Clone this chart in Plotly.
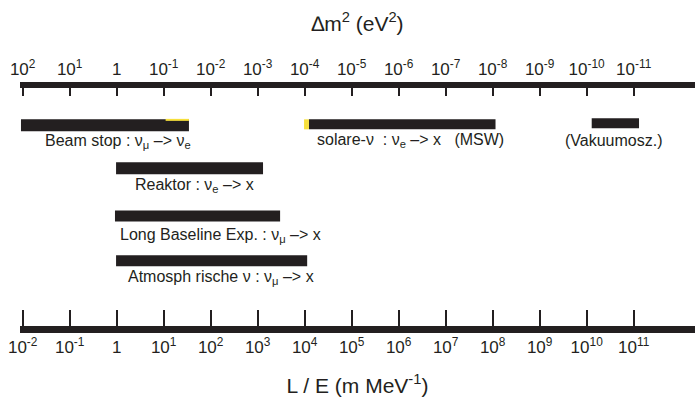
import plotly.graph_objects as go
import math

# ---- data (L/E ranges in m/MeV) ----
experiments = ["Beam stop", "solare-ν (MSW)", "Vakuumosz.", "Reaktor", "Long Baseline", "Atmosphärische ν"]
le_min = [0.0092, 1.23e4, 1.28e10, 0.97, 0.92, 0.97]
le_max = [34.5, 1.15e8, 1.3e11, 1.3e3, 3.0e3, 1.13e4]
# yellow highlight segments
yellow_min = [11.0, 9.7e3]
yellow_max = [34.5, 1.23e4]

labels = [
    "Beam stop : ν<sub>μ</sub> –> ν<sub>e</sub>",
    "solare-ν  : ν<sub>e</sub> –> x   (MSW)",
    "(Vakuumosz.)",
    "Reaktor : ν<sub>e</sub> –> x",
    "Long Baseline Exp. : ν<sub>μ</sub> –> x",
    "Atmosph rische ν : ν<sub>μ</sub> –> x",
]
label_x = [0.027, 1.66e4, 3.9e10, 2.25, 1.07, 1.58]

le_exp = list(range(-2, 12))
dm_exp = list(range(2, -12, -1))

def tick_text(e):
    if e == 0:
        return "1"
    return "10<sup>%d</sup>" % e

# ---- layout helpers (pixel lanes) ----
bar_y = [125, 124, 123, 168, 216, 261]
bar_w = [12, 10, 10, 12, 11, 11]
label_y = [141, 140, 140, 185, 236, 278]
label_anchor = ["left", "left", "center", "left", "left", "left"]
yellow_y = [119.5, 124]
yellow_w = [2, 10]

DARK = "#231f20"
YEL = "#f7e03c"

fig = go.Figure()

for i in range(len(experiments)):
    fig.add_trace(go.Scatter(
        x=[le_min[i], le_max[i]], y=[bar_y[i], bar_y[i]],
        mode="lines", line=dict(color=DARK, width=bar_w[i]),
        hoverinfo="skip", showlegend=False, xaxis="x", yaxis="y"))

for i in range(len(yellow_min)):
    fig.add_trace(go.Scatter(
        x=[yellow_min[i], yellow_max[i]], y=[yellow_y[i], yellow_y[i]],
        mode="lines", line=dict(color=YEL, width=yellow_w[i]),
        hoverinfo="skip", showlegend=False, xaxis="x", yaxis="y"))

# invisible trace to anchor the top axis
fig.add_trace(go.Scatter(
    x=[10 ** e for e in dm_exp], y=[200] * len(dm_exp), mode="markers",
    marker=dict(opacity=0), hoverinfo="skip", showlegend=False,
    xaxis="x2", yaxis="y"))

for i in range(len(labels)):
    fig.add_annotation(
        x=math.log10(label_x[i]), y=label_y[i], xref="x", yref="y",
        text=labels[i], showarrow=False, xanchor=label_anchor[i], yanchor="middle",
        font=dict(family="Liberation Sans", size=16, color=DARK))

xmin = -2.057
xmax = 12.305

fig.update_layout(
    width=695, height=401,
    margin=dict(l=20, r=0, t=88, b=75),
    paper_bgcolor="white", plot_bgcolor="white",
    font=dict(family="Liberation Sans", color=DARK),
    xaxis=dict(
        type="log", range=[xmin, xmax], side="bottom",
        showline=True, linecolor=DARK, linewidth=7,
        ticks="inside", ticklen=16, tickwidth=2, tickcolor=DARK,
        tickvals=[10 ** e for e in le_exp], ticktext=[tick_text(e) for e in le_exp],
        tickfont=dict(size=17, color=DARK), showgrid=False, zeroline=False,
        title=dict(text="L / E (m MeV<sup>-1</sup>)", font=dict(size=21, color=DARK), standoff=24),
    ),
    xaxis2=dict(
        type="log", range=[-xmin, -xmax], side="top", overlaying="x", anchor="y",
        showline=True, linecolor=DARK, linewidth=6,
        ticks="inside", ticklen=8, tickwidth=2, tickcolor=DARK,
        tickvals=[10 ** e for e in dm_exp], ticktext=[tick_text(e) for e in dm_exp],
        tickfont=dict(size=17, color=DARK), showgrid=False, zeroline=False,
        title=dict(text="∆m<sup>2</sup> (eV<sup>2</sup>)", font=dict(size=21, color=DARK), standoff=22),
    ),
    yaxis=dict(range=[326.5, 87.5], visible=False, showgrid=False, zeroline=False),
)

fig.write_html("out.html")
